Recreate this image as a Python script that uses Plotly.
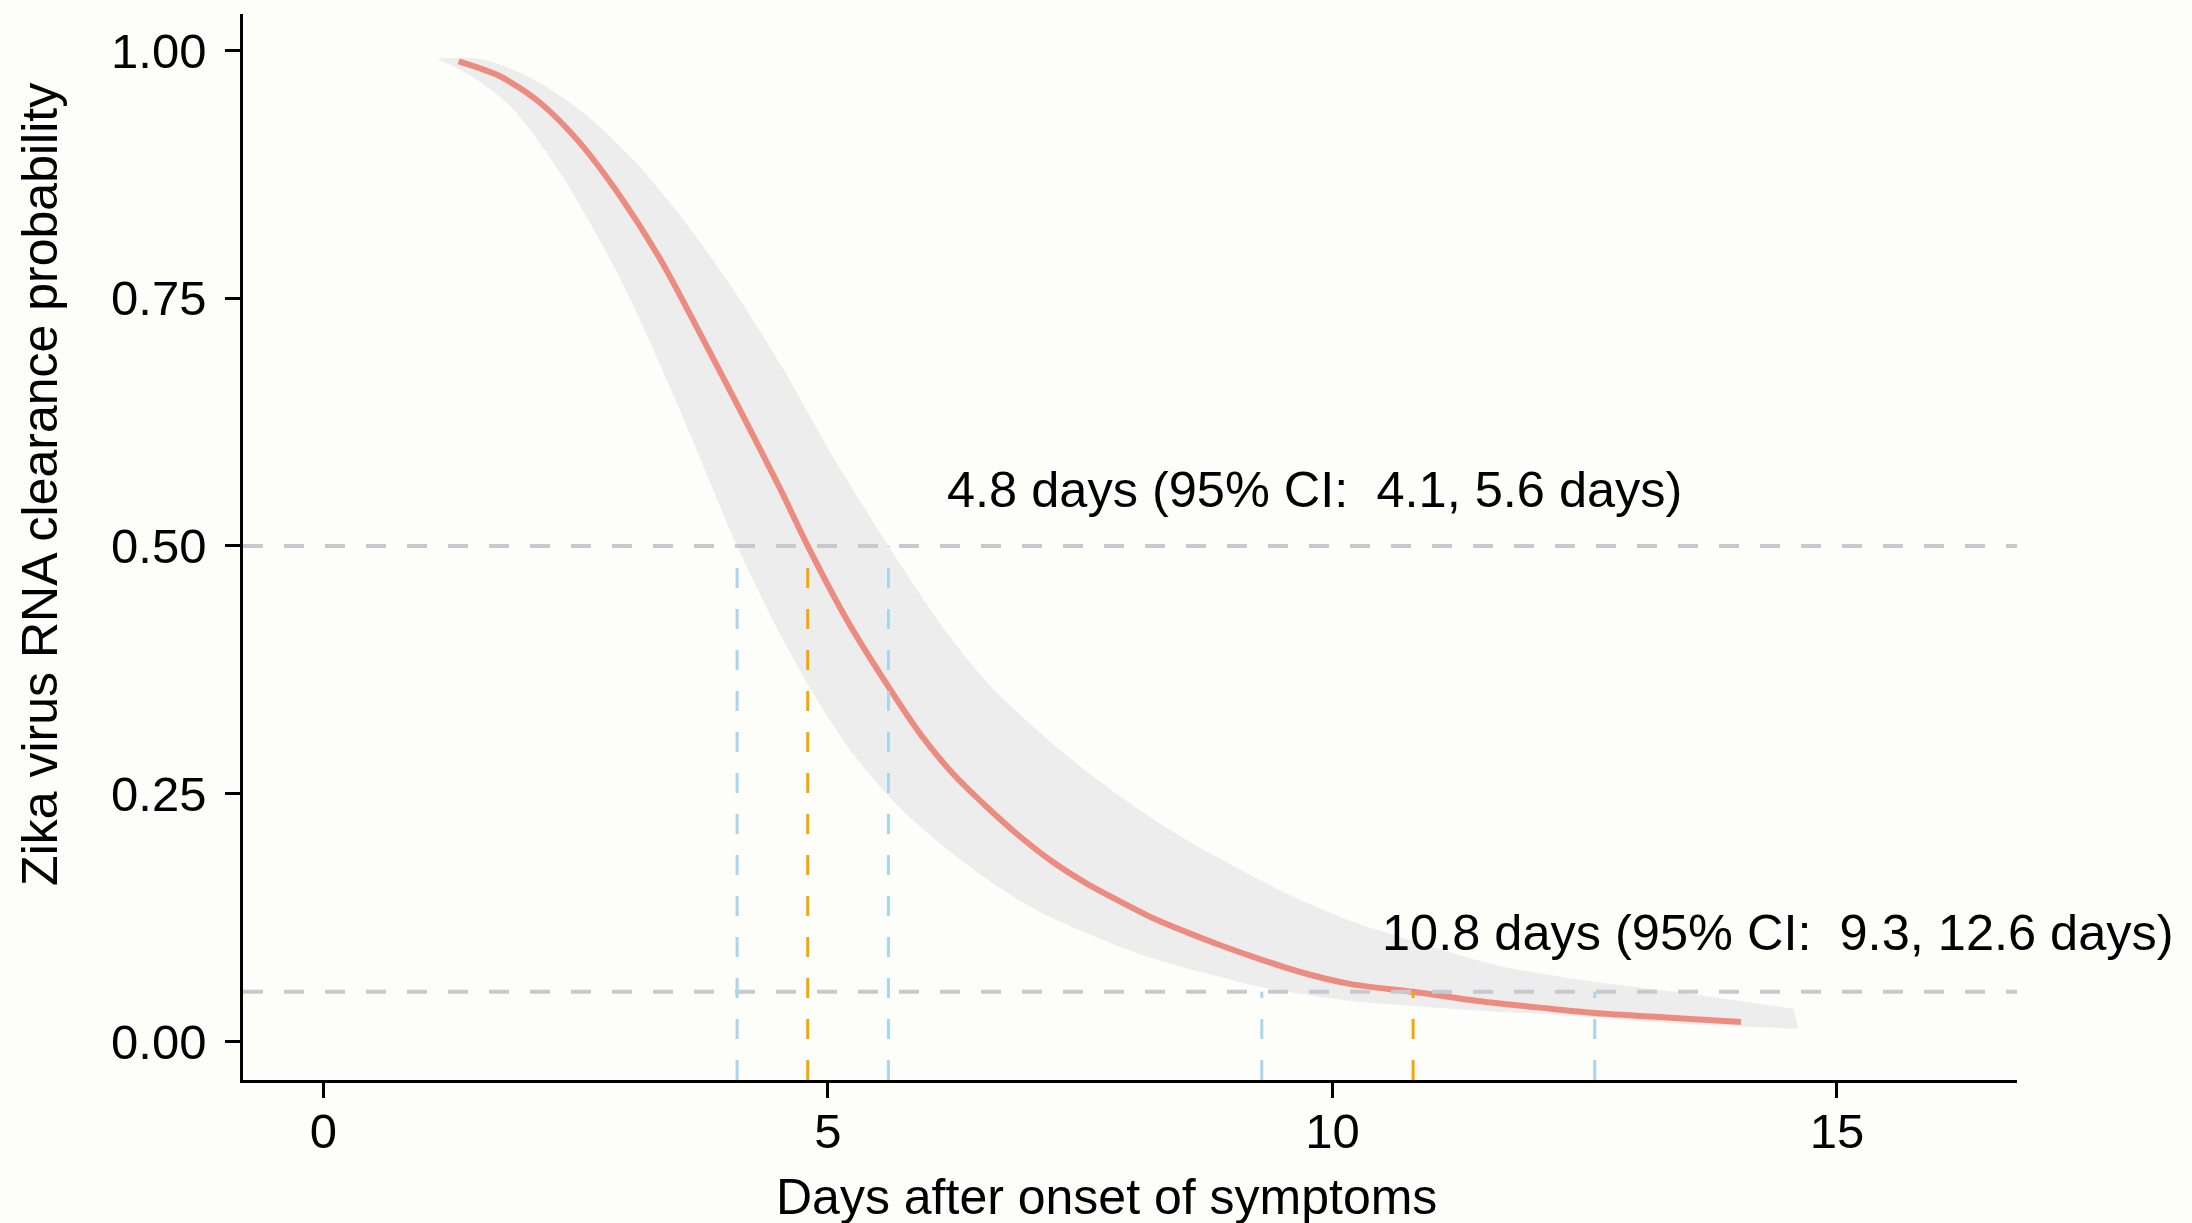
import plotly.graph_objects as go

# Median clearance curve (days after onset, probability still RNA-positive)
curve_days = [1.34, 1.75, 2.15, 2.54, 2.94, 3.34, 3.73, 4.13, 4.53, 4.80, 5.19, 5.58,
              5.91, 6.24, 6.57, 6.90, 7.23, 7.57, 7.90, 8.23, 8.56, 8.89, 9.28, 9.68,
              10.17, 10.80, 11.50, 12.16, 12.60, 13.31, 14.05]
curve_prob = [0.989, 0.974, 0.947, 0.907, 0.853, 0.789, 0.715, 0.637, 0.557, 0.500, 0.425, 0.361,
              0.311, 0.270, 0.237, 0.207, 0.181, 0.159, 0.141, 0.124, 0.110, 0.097, 0.083, 0.070,
              0.058, 0.050, 0.040, 0.033, 0.0286, 0.024, 0.0195]

# 95% credible band: upper and lower edges
upper_days = [1.12, 1.59, 2.08, 2.58, 3.07, 3.57, 4.06, 4.56, 5.05, 5.60, 6.18, 6.57,
              6.90, 7.23, 7.57, 7.90, 8.23, 8.56, 8.89, 9.51, 10.17, 10.84, 11.66, 12.60,
              13.31, 14.57]
upper_prob = [0.992, 0.991, 0.971, 0.937, 0.890, 0.829, 0.759, 0.678, 0.590, 0.500, 0.412, 0.363,
              0.330, 0.300, 0.272, 0.247, 0.224, 0.203, 0.184, 0.151, 0.122, 0.100, 0.076, 0.060,
              0.051, 0.033]
lower_days = [1.12, 1.42, 1.85, 2.35, 2.94, 3.50, 4.10, 4.53, 4.92, 5.25, 5.58, 5.91,
              6.24, 6.57, 6.90, 7.23, 7.57, 7.90, 8.23, 8.56, 8.89, 9.28, 10.17, 11.17,
              12.56, 13.31, 14.62]
lower_prob = [0.992, 0.977, 0.944, 0.876, 0.770, 0.645, 0.500, 0.410, 0.340, 0.290, 0.250, 0.217,
              0.189, 0.164, 0.142, 0.124, 0.109, 0.095, 0.0835, 0.0734, 0.065, 0.055, 0.041, 0.033,
              0.0245, 0.0185, 0.0128]

# Reference probability levels and the matching times (CI low, estimate, CI high)
levels = [0.50, 0.05]
level_times = [[4.1, 4.8, 5.6], [9.3, 10.8, 12.6]]
level_labels = ["4.8 days (95% CI: \u00a04.1, 5.6 days)",
                "10.8 days (95% CI: \u00a09.3, 12.6 days)"]
label_x = [6.165, 10.47]
label_y = [0.557, 0.1095]

x_ticks = [0, 5, 10, 15]
y_ticks = [0.00, 0.25, 0.50, 0.75, 1.00]
y_tick_text = ["0.00", "0.25", "0.50", "0.75", "1.00"]

X_RANGE = [-0.797, 16.785]
Y_RANGE = [-0.039, 1.0368]

FONT = "Liberation Sans, Arial, Helvetica, sans-serif"
BG = "#FDFDF9"
BAND = "#EDEDEE"
LINE = "#EC8C80"
GUIDE = "#C8C9CF"
CI_COL = "#A9D6EC"
EST_COL = "#F2A900"

fig = go.Figure()

# Credible band: lower edge first, then upper edge filled down to it
fig.add_trace(go.Scatter(
    x=lower_days, y=lower_prob, mode="lines",
    line=dict(width=0, color=BAND, shape="spline", smoothing=0.8),
    hoverinfo="skip", showlegend=False))
fig.add_trace(go.Scatter(
    x=upper_days, y=upper_prob, mode="lines", fill="tonexty", fillcolor=BAND,
    line=dict(width=0, color=BAND, shape="spline", smoothing=0.8),
    hoverinfo="skip", showlegend=False))

# Median curve
fig.add_trace(go.Scatter(
    x=curve_days, y=curve_prob, mode="lines",
    line=dict(color=LINE, width=6, shape="spline", smoothing=0.8),
    showlegend=False))

# Horizontal guides across the panel
for lv in levels:
    fig.add_trace(go.Scatter(
        x=X_RANGE, y=[lv, lv], mode="lines",
        line=dict(color=GUIDE, width=4, dash="20px,21px"),
        hoverinfo="skip", showlegend=False))

# Vertical drop lines from the axis up to each level
for lv, times in zip(levels, level_times):
    for i, t in enumerate(times):
        col = EST_COL if i == 1 else CI_COL
        fig.add_trace(go.Scatter(
            x=[t, t], y=[Y_RANGE[0], lv], mode="lines",
            line=dict(color=col, width=3, dash="20px,21px"),
            hoverinfo="skip", showlegend=False))

for txt, lx, ly in zip(level_labels, label_x, label_y):
    fig.add_annotation(x=lx, y=ly, xref="x", yref="y", text=txt, showarrow=False,
                       xanchor="left", yanchor="middle",
                       font=dict(family=FONT, size=50.5, color="black"))

# Axis titles
fig.add_annotation(xref="paper", yref="paper", x=(1106 - 243) / (2192 - 243 - 175),
                   y=(1079.6 - 1197) / (1079.6 - 14.5),
                   text="Days after onset of symptoms", showarrow=False,
                   xanchor="center", yanchor="middle",
                   font=dict(family=FONT, size=50, color="black"))
fig.add_annotation(xref="paper", yref="paper", x=(40 - 243) / (2192 - 243 - 175),
                   y=(1079.6 - 485) / (1079.6 - 14.5),
                   text="Zika virus RNA clearance probability", showarrow=False,
                   textangle=-90, xanchor="center", yanchor="middle",
                   font=dict(family=FONT, size=50, color="black"))

axis_common = dict(showgrid=False, zeroline=False, showline=True, linecolor="black",
                   linewidth=2.5, ticks="outside", ticklen=15, tickwidth=2.5,
                   tickcolor="black", tickfont=dict(family=FONT, size=49, color="black"))

fig.update_xaxes(range=X_RANGE, tickmode="array", tickvals=x_ticks,
                 ticktext=[str(v) for v in x_ticks], ticklabelstandoff=-9, **axis_common)
fig.update_yaxes(range=Y_RANGE, tickmode="array", tickvals=y_ticks,
                 ticktext=y_tick_text, ticklabelstandoff=9, **axis_common)

fig.update_layout(
    width=2192, height=1223,
    margin=dict(l=243, r=175, t=14, b=143, pad=0),
    paper_bgcolor=BG, plot_bgcolor=BG,
    font=dict(family=FONT, color="black"),
    showlegend=False,
)

fig.write_html("out.html")
